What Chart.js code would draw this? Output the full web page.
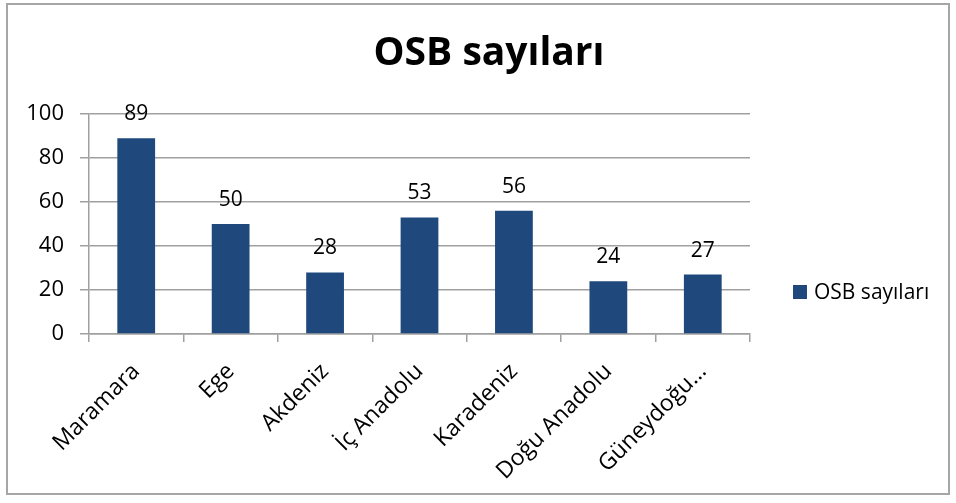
<!DOCTYPE html>
<html>
<head>
<meta charset="utf-8">
<script src="https://cdn.jsdelivr.net/npm/chart.js@4/dist/chart.umd.min.js"></script>
<style>
  html, body { margin: 0; padding: 0; background: #fff; }
  #wrap { position: relative; width: 956px; height: 503px; }
  #frame { position: absolute; left: 6px; top: 3px; width: 940px; height: 488px; border: 2px solid #a6a6a6; pointer-events: none; }
  canvas { position: absolute; left: 0; top: 0; }
</style>
</head>
<body>
<div id="wrap">
  <canvas id="c" width="956" height="503"></canvas>
  <div id="frame"></div>
</div>
<script>
const chartTitle = "OSB sayıları";
const seriesName = "OSB sayıları";
const categories = ["Maramara", "Ege", "Akdeniz", "İç Anadolu", "Karadeniz", "Doğu Anadolu", "Güneydoğu…"];
const values = [89, 50, 28, 53, 56, 24, 27];
const yTicks = [0, 20, 40, 60, 80, 100];

const FONT = "'Open Sans', 'DejaVu Sans', sans-serif";
const BAR = "#1F497D";
const GRID = "#a0a0a0";

const extras = {
  id: "extras",
  afterDatasetsDraw(chart) {
    const ctx = chart.ctx;
    const meta = chart.getDatasetMeta(0);
    ctx.save();
    ctx.fillStyle = "#000";
    ctx.font = "21px " + FONT;
    ctx.textAlign = "center";
    ctx.textBaseline = "alphabetic";
    meta.data.forEach((bar, i) => {
      ctx.fillText(String(values[i]), bar.x, bar.y - 18);
    });
    // title
    ctx.font = "bold 39px " + FONT;
    ctx.textBaseline = "alphabetic";
    ctx.fillText(chartTitle, 489, 65);
    // legend
    ctx.fillStyle = BAR;
    ctx.fillRect(793, 285, 14, 14);
    ctx.fillStyle = "#000";
    ctx.font = "21px " + FONT;
    ctx.textAlign = "left";
    ctx.fillText(seriesName, 814, 299);
    ctx.restore();
  }
};

new Chart(document.getElementById("c"), {
  type: "bar",
  data: {
    labels: categories,
    datasets: [{
      label: seriesName,
      data: values,
      backgroundColor: BAR,
      borderWidth: 0,
      categoryPercentage: 1.0,
      barPercentage: 0.4
    }]
  },
  options: {
    responsive: false,
    animation: false,
    events: [],
    layout: { padding: { top: 114, left: 0, right: 206, bottom: 0 } },
    plugins: { legend: { display: false }, title: { display: false }, tooltip: { enabled: false } },
    scales: {
      x: {
        offset: true,
        grid: { display: true, drawOnChartArea: false, offset: true, color: GRID, lineWidth: 1.5, tickLength: 8, tickColor: GRID },
        border: { display: true, color: GRID, width: 1.5 },
        ticks: { color: "#000", font: { family: FONT, size: 23 }, minRotation: 45, maxRotation: 45, autoSkip: false, padding: 16 },
        afterFit(scale) { scale.height = 503 - 334; }
      },
      y: {
        min: 0, max: 100,
        afterBuildTicks(scale) { scale.ticks = yTicks.map(v => ({ value: v })); },
        grid: { color: GRID, lineWidth: 1.5, tickLength: 9, tickColor: GRID },
        border: { display: true, color: GRID, width: 1.5 },
        ticks: { color: "#000", font: { family: FONT, size: 22 }, padding: 16 },
        afterFit(scale) { scale.width = 89; }
      }
    }
  },
  plugins: [extras]
});
</script>
</body>
</html>
